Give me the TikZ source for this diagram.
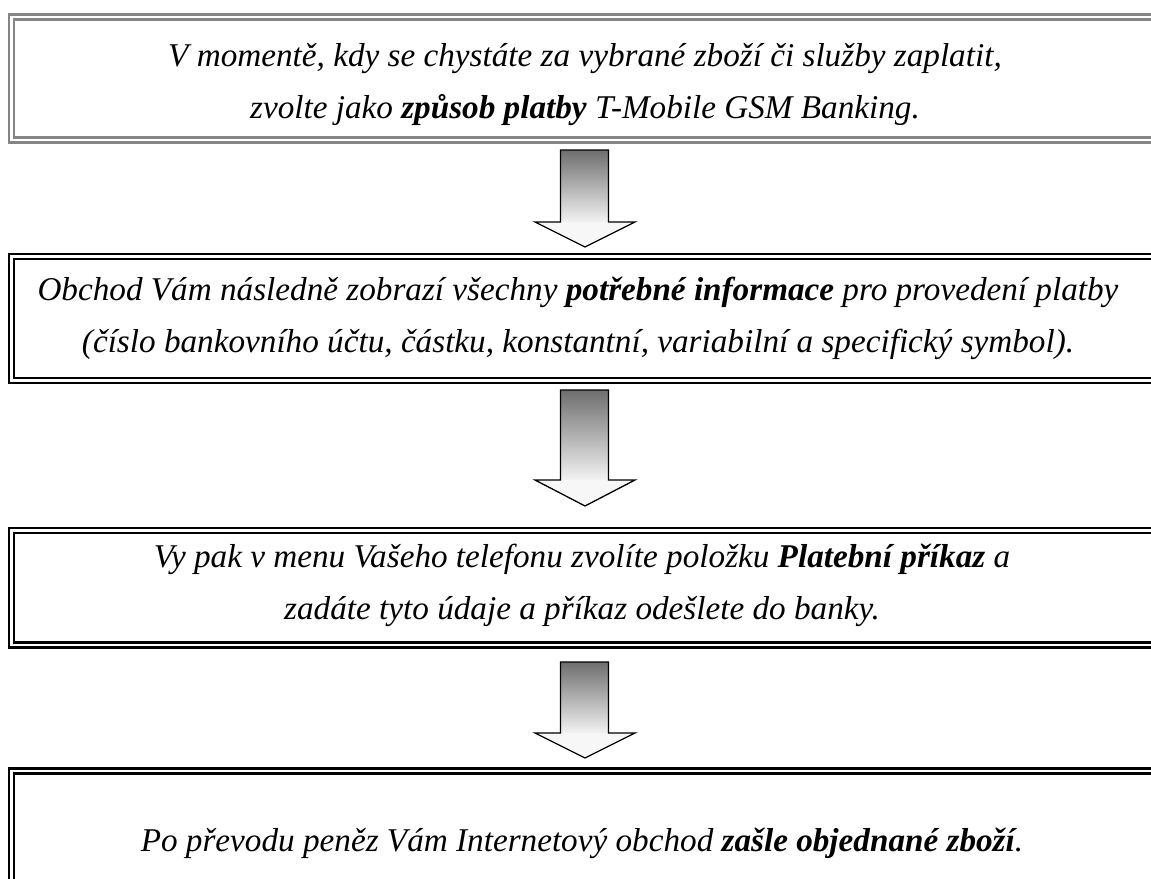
\documentclass[tikz,border=0pt]{standalone}
\usepackage{fontspec}
\setmainfont{Liberation Serif}
\usetikzlibrary{calc}
\definecolor{framegray}{HTML}{858585}
\definecolor{shaftdark}{HTML}{6E6E6E}
\begin{document}
\begin{tikzpicture}[x=1pt,y=-1pt,
  frame/.style={draw=#1, double=white, double distance=2.4pt, line width=2.6pt,
    inner sep=0pt, outer sep=0pt, anchor=north west, minimum width=1160pt},
  txt/.style={align=center, inner sep=0pt, font=\fontsize{33.2}{52}\selectfont\itshape},
  arrowline/.style={draw=black, line width=1.3pt, line join=miter}]
\useasboundingbox (0,0) rectangle (1151,878);
\clip (0,0) rectangle (1151,878);
\fill[white] (0,0) rectangle (1151,878);

% boxes
\node[frame=framegray, minimum height=123pt] (b1) at (11.5,17) {};
\node[frame=black, minimum height=124pt] (b2) at (11.5,256.5) {};
\node[frame=black, minimum height=114.5pt] (b3) at (11.5,530.5) {};
\node[frame=black, minimum height=160pt] (b4) at (11.5,771) {};

% texts
\node[txt] (t1) at (585,85) {V momentě, kdy se chystáte za vybrané zboží či služby zaplatit,\\zvolte jako \textbf{způsob platby} T-Mobile GSM Banking.};
\node[txt] (t2) at (578,318) {Obchod Vám následně zobrazí všechny \textbf{potřebné informace} pro provedení platby\\(číslo bankovního účtu, částku, konstantní, variabilní a specifický symbol).};
\node[txt] (t3) at (582,585) {Vy pak v menu Vašeho telefonu zvolíte položku \textbf{Platební příkaz} a\\zadáte tyto údaje a příkaz odešlete do banky.};
\node[txt] (t4) at (582,843) {Po převodu peněz Vám Internetový obchod \textbf{zašle objednané zboží}.};

% block arrows: #1 top, #2 head start, #3 tip
\newcommand{\blockarrow}[3]{%
  \shade[top color=shaftdark, bottom color=white!95!black] (560.5,#1) rectangle (608.5,#2);
  \fill[white!97!black] (535,#2) -- (635,#2) -- (585,#3) -- cycle;
  \draw[arrowline] (560.5,#1) -- (608.5,#1) -- (608.5,#2) -- (635,#2) -- (585,#3)
     -- (535,#2) -- (560.5,#2) -- cycle;}
\blockarrow{150}{222}{247}
\blockarrow{390}{480}{506}
\blockarrow{662}{733}{758}
\end{tikzpicture}
\end{document}
